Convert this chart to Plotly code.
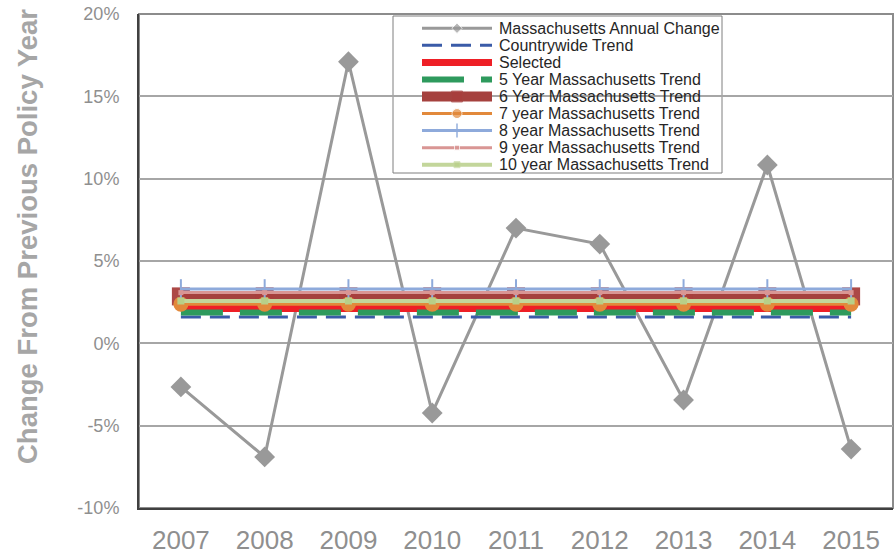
import plotly.graph_objects as go

# ---------------- data ----------------
years = ["2007", "2008", "2009", "2010", "2011", "2012", "2013", "2014", "2015"]
annual_change = [-2.65, -6.9, 17.1, -4.23, 7.0, 6.03, -3.44, 10.83, -6.42]

trend_names = [
    "Countrywide Trend",
    "Selected",
    "5 Year Massachusetts Trend",
    "6 Year Massachusetts Trend",
    "7 year Massachusetts Trend",
    "8 year Massachusetts Trend",
    "9 year Massachusetts Trend",
    "10 year Massachusetts Trend",
]
trend_values = [1.6, 2.12, 1.87, 2.85, 2.38, 3.3, 3.08, 2.57]

y_tick_values = [-10, -5, 0, 5, 10, 15, 20]
y_title = "Change From Previous Policy Year"
annual_name = "Massachusetts Annual Change"

# ---------------- styles ----------------
W, H = 894, 555
L, R, T, B = 139, 1, 14, 47
FONT = "Liberation Sans, Arial, sans-serif"

styles = {
    annual_name: dict(line=dict(color="#999999", width=3),
                      marker=dict(symbol="diamond", size=16, color="#999999"), leg_size=8),
    "Countrywide Trend": dict(line=dict(color="#3a5ba8", width=3, dash="20px,9px"), marker=None),
    "Selected": dict(line=dict(color="#ee1f26", width=7), marker=None),
    "5 Year Massachusetts Trend": dict(line=dict(color="#2e9a5d", width=6, dash="42px,17px"), marker=None),
    "6 Year Massachusetts Trend": dict(line=dict(color="#a5413e", width=10),
                                       marker=dict(symbol="square", size=18, color="rgba(168,62,60,0.95)"),
                                       leg_size=11),
    "7 year Massachusetts Trend": dict(line=dict(color="#e2893b", width=3),
                                       marker=dict(symbol="circle", size=15, color="#e2893b"), leg_size=10),
    "8 year Massachusetts Trend": dict(line=dict(color="#8eaadb", width=3),
                                       marker=dict(symbol="line-ns", size=14, color="#8eaadb",
                                                   line=dict(color="#8eaadb", width=2)), leg_size=10),
    "9 year Massachusetts Trend": dict(line=dict(color="#d99694", width=3),
                                       marker=dict(symbol="square", size=5, color="#d99694"), leg_size=5),
    "10 year Massachusetts Trend": dict(line=dict(color="#c3d69b", width=4),
                                        marker=dict(symbol="square", size=7, color="#b8cf88"), leg_size=6),
}

fig = go.Figure()

# annual change series
st = styles[annual_name]
fig.add_trace(go.Scatter(x=years, y=annual_change, mode="lines+markers", name=annual_name,
                         line=st["line"], marker=st["marker"], showlegend=False))

# trend lines
for name, val in zip(trend_names, trend_values):
    st = styles[name]
    kw = dict(mode="lines+markers", marker=st["marker"]) if st["marker"] else dict(mode="lines")
    fig.add_trace(go.Scatter(x=years, y=[val] * len(years), name=name, line=st["line"],
                             showlegend=False, **kw))


def px_to_paper(px, py):
    return (px - L) / (W - L - R), (H - B - py) / (H - T - B)


# ---------------- manual legend (pixel coordinates on overlay axes) ----------------
LEG_BOX = (393, 16, 722, 173)
LEG_ROW0, LEG_STEP = 28.3, 17.05
LEG_X0, LEG_XM, LEG_X1, LEG_TX = 422, 457, 492, 497

# white legend box above gridlines, below traces
bx0, by0 = px_to_paper(LEG_BOX[0], LEG_BOX[3])
bx1, by1 = px_to_paper(LEG_BOX[2], LEG_BOX[1])
fig.add_shape(type="rect", xref="paper", yref="paper", x0=bx0, y0=by0, x1=bx1, y1=by1,
              line=dict(color="#7f7f7f", width=1), fillcolor="white", layer="between")

legend_order = [annual_name] + trend_names
for i, name in enumerate(legend_order):
    st = styles[name]
    yy = LEG_ROW0 + i * LEG_STEP
    if st["marker"]:
        mk = dict(st["marker"])
        mk["size"] = [0, st["leg_size"], 0]
        fig.add_trace(go.Scatter(x=[LEG_X0, LEG_XM, LEG_X1], y=[yy] * 3, mode="lines+markers",
                                 line=st["line"], marker=mk, xaxis="x2", yaxis="y2",
                                 showlegend=False, hoverinfo="skip", cliponaxis=False))
    else:
        fig.add_trace(go.Scatter(x=[LEG_X0, LEG_X1], y=[yy] * 2, mode="lines",
                                 line=st["line"], xaxis="x2", yaxis="y2",
                                 showlegend=False, hoverinfo="skip", cliponaxis=False))
    fig.add_annotation(x=LEG_TX, y=yy, xref="x2", yref="y2", text=name, showarrow=False,
                       xanchor="left", yanchor="middle",
                       font=dict(family=FONT, size=16, color="#262626"))

# plot-area border (gray top/right)
fig.add_shape(type="rect", xref="paper", yref="paper", x0=0, y0=0, x1=1, y1=1,
              line=dict(color="#8c8c8c", width=2), layer="below")

# y axis title
tx, ty = px_to_paper(27, 237)
fig.add_annotation(x=tx, y=ty, xref="paper", yref="paper", text="<b>" + y_title + "</b>",
                   showarrow=False, textangle=-90, xanchor="center", yanchor="middle",
                   font=dict(family=FONT, size=27.5, color="#a6a6a6"))

fig.update_layout(
    width=W, height=H,
    margin=dict(l=L, r=R, t=T, b=B, pad=0),
    paper_bgcolor="white", plot_bgcolor="white",
    font=dict(family=FONT),
    showlegend=False,
    hovermode=False,
    xaxis=dict(type="category", categoryorder="array", categoryarray=years,
               range=[-0.5, len(years) - 0.5], showgrid=False, zeroline=False,
               showline=True, linecolor="#404040", linewidth=2, ticks="",
               tickfont=dict(family=FONT, size=26, color="#8f8f8f"),
               ticklabelstandoff=8),
    yaxis=dict(range=[-10, 20], tickmode="array", tickvals=y_tick_values,
               ticktext=[f"{v}%" for v in y_tick_values],
               showgrid=True, gridcolor="#a6a6a6", gridwidth=1.5, zeroline=False,
               showline=True, linecolor="#404040", linewidth=2, ticks="",
               tickfont=dict(family=FONT, size=18, color="#8f8f8f"),
               ticklabelstandoff=14),
    xaxis2=dict(overlaying="x", range=[L, W - R], visible=False, fixedrange=True),
    yaxis2=dict(overlaying="y", range=[H - B, T], visible=False, fixedrange=True),
)

fig.write_html("out.html", config={"displayModeBar": False},
               post_script="document.body.style.margin='0';document.body.style.overflow='hidden';")
